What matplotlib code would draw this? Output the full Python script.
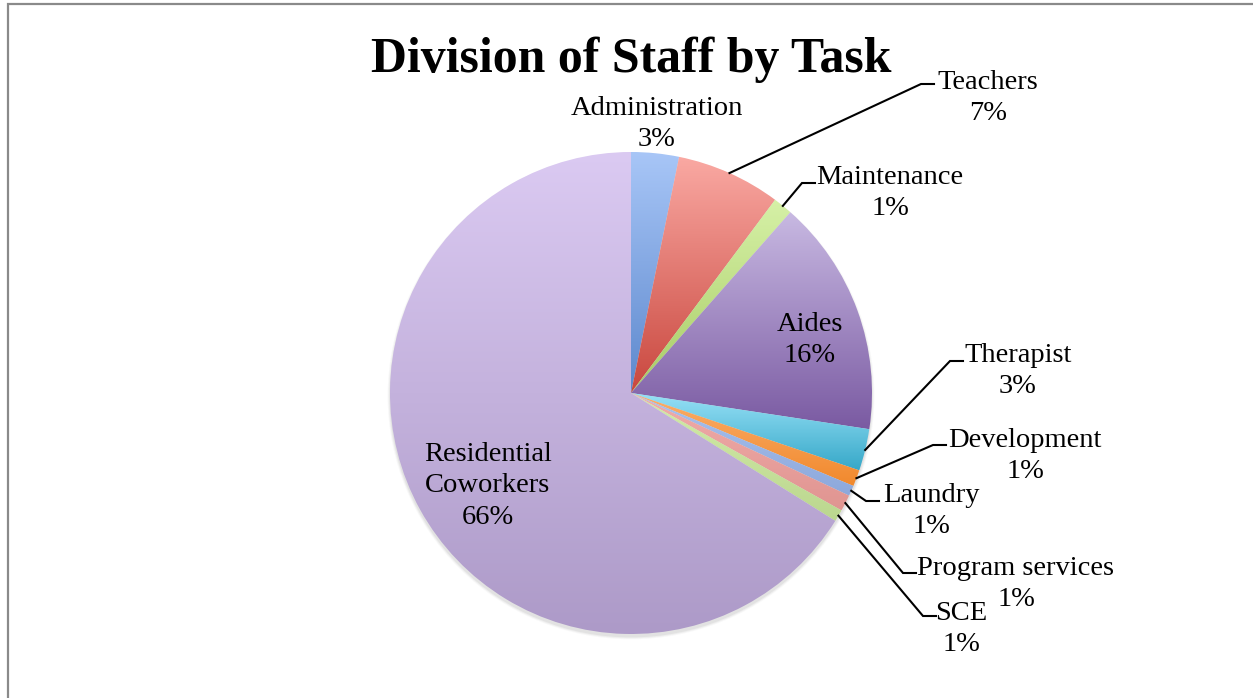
import numpy as np
import matplotlib
matplotlib.use("Agg")
import matplotlib.pyplot as plt
from matplotlib.colors import LinearSegmentedColormap
from matplotlib.patches import Rectangle, Circle

# data (percent of staff)
labels = ['Administration', 'Teachers', 'Maintenance', 'Aides', 'Therapist',
          'Development', 'Laundry', 'Program services', 'SCE',
          'Residential\nCoworkers']
shares = [3.2, 7.0, 1.3, 15.9, 2.8, 1.1, 0.7, 1.1, 0.8, 66.1]

# gradient colours, top -> bottom of each slice
top_colors = ['#a8c6f7', '#faa9a3', '#d6f1a7', '#c8b9e2', '#98e1f7',
              '#fbae6a', '#a9c2ef', '#f1acaa', '#d3eba9', '#dbcaf2']
bottom_colors = ['#5d88cd', '#c9473e', '#a8cc66', '#7a5aa2', '#36a8c8',
                 '#f1892d', '#8da8db', '#e09591', '#bbd78f', '#ad9ac8']

# label layout in pixels: block centre, elbow of leader line (None = no line)
label_pos = [(657, 124), (988, 98), (890, 193), (810, 340), (1018, 371),
             (1025, 456), (931, 511), (1016, 584), (961, 629), (488, 486)]
elbows = [None, (921, 84), (802, 183), None, (950, 361),
          (933, 445), (866, 501), (903, 573), (923, 616), None]

W, H = 1253, 698
CX, CY, R = 631, 393, 241


def px(x, y):
    return (x - CX) / R, (CY - y) / R


fig = plt.figure(figsize=(W / 100, H / 100), dpi=100)
ax = fig.add_axes([0, 0, 1, 1])
ax.axis('off')

# soft shadow under the pie
for k, a in enumerate([0.04, 0.06, 0.08]):
    ax.add_patch(Circle((0, -0.012), 1.010 - k * 0.004, color='#555555',
                        alpha=a, lw=0, zorder=0))

wedges, _ = ax.pie(shares, startangle=90, counterclock=False, radius=1,
                   center=(0, 0), wedgeprops=dict(linewidth=0))

grad = np.linspace(0, 1, 256).reshape(-1, 1)
for w, c0, c1 in zip(wedges, bottom_colors, top_colors):
    w.set_facecolor('none')
    w.set_zorder(1)
    ext = w.get_path().get_extents()
    cmap = LinearSegmentedColormap.from_list('g', [c0, c1])
    im = ax.imshow(grad, cmap=cmap, origin='lower', aspect='auto',
                   extent=[ext.x0, ext.x1, ext.y0, ext.y1], zorder=1,
                   interpolation='bilinear')
    im.set_clip_path(w)

font = 'Liberation Serif'
for w, lab, s, pos, el in zip(wedges, labels, shares, label_pos, elbows):
    tx, ty = px(*pos)
    ax.text(tx, ty, '{}\n{:.0f}%'.format(lab, s), ha='center', va='center',
            multialignment='center', fontsize=20.5, family=font,
            linespacing=1.33, zorder=5)
    if el is not None:
        mid = np.deg2rad((w.theta1 + w.theta2) / 2)
        ex, ey = px(*el)
        hx, _ = px(el[0] + 13, el[1])
        ax.plot([np.cos(mid), ex, hx], [np.sin(mid), ey, ey], color='black',
                lw=1.5, solid_joinstyle='miter', zorder=4)

ax.text(0, (CY - 72) / R, 'Division of Staff by Task', ha='center',
        va='baseline', fontsize=35.8, fontweight='bold', family=font)

ax.set_xlim(-CX / R, (W - CX) / R)
ax.set_ylim((CY - H) / R, CY / R)
ax.set_aspect('auto')

# outer frame, only left and top edges fall inside the picture
fig.add_artist(Rectangle((7.5 / W, -1.0), 3.0, 1.0 + 1 - 4.0 / H,
                         transform=fig.transFigure, fill=False,
                         edgecolor='#8a8a8a', lw=1.6))

fig.savefig('out.png', dpi=100)
